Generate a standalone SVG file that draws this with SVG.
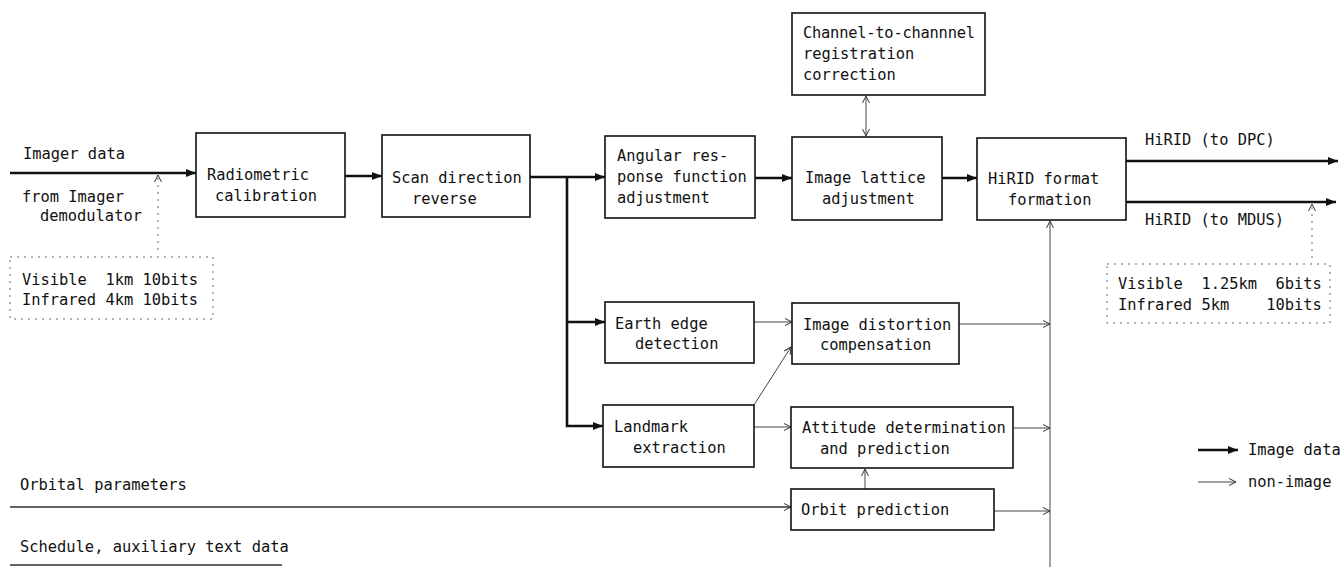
<svg xmlns="http://www.w3.org/2000/svg" width="1340" height="567" viewBox="0 0 1340 567">
<defs>
<style>
text{font-family:"DejaVu Sans Mono","Liberation Mono",monospace;font-size:15.4px;fill:#111}
.box{fill:#fff;stroke:#111;stroke-width:1.6}
.thick{stroke:#111;stroke-width:2.6;fill:none}
.thin{stroke:#444;stroke-width:1;fill:none}
.feed{stroke:#333;stroke-width:1.4;fill:none}
.dot{stroke:#666;stroke-width:1;fill:none;stroke-dasharray:2 5}
</style>
<marker id="ah" markerUnits="userSpaceOnUse" markerWidth="12" markerHeight="10" refX="10" refY="5" orient="auto">
<path d="M0,1 L10,5 L0,9 Z" fill="#111"/>
</marker>
<marker id="oh" markerUnits="userSpaceOnUse" markerWidth="10" markerHeight="10" refX="8" refY="5" orient="auto">
<path d="M1,1.5 L8,5 L1,8.5" fill="none" stroke="#333" stroke-width="1"/>
</marker>
<marker id="os" markerUnits="userSpaceOnUse" markerWidth="10" markerHeight="10" refX="2" refY="5" orient="auto">
<path d="M9,1.5 L2,5 L9,8.5" fill="none" stroke="#333" stroke-width="1"/>
</marker>
</defs>

<g id="connectors">
<line class="thick" x1="10" y1="173" x2="196" y2="173" marker-end="url(#ah)"/>
<line class="thick" x1="345" y1="176" x2="382" y2="176" marker-end="url(#ah)"/>
<line class="thick" x1="530" y1="177" x2="605" y2="177" marker-end="url(#ah)"/>
<polyline class="thick" points="567,177 567,426 603,426" marker-end="url(#ah)"/>
<line class="thick" x1="567" y1="322" x2="605" y2="322" marker-end="url(#ah)"/>
<line class="thick" x1="755" y1="178" x2="792" y2="178" marker-end="url(#ah)"/>
<line class="thick" x1="942" y1="178" x2="977" y2="178" marker-end="url(#ah)"/>
<line class="thick" x1="1126" y1="161" x2="1338" y2="161" marker-end="url(#ah)"/>
<line class="thick" x1="1126" y1="202" x2="1336" y2="202" marker-end="url(#ah)"/>
<line class="thin" x1="866" y1="96" x2="866" y2="136" marker-start="url(#os)" marker-end="url(#oh)"/>
<line class="thin" x1="754" y1="322" x2="792" y2="322" marker-end="url(#oh)"/>
<line class="thin" x1="754" y1="405" x2="791" y2="347" marker-end="url(#oh)"/>
<line class="thin" x1="754" y1="427" x2="791" y2="427" marker-end="url(#oh)"/>
<line class="thin" x1="865" y1="489" x2="865" y2="469" marker-end="url(#oh)"/>
<line class="feed" x1="10" y1="507" x2="791" y2="507" marker-end="url(#oh)"/>
<line class="feed" x1="10" y1="565" x2="282" y2="565"/>
<line class="thin" x1="959" y1="324" x2="1050" y2="324" marker-end="url(#oh)"/>
<line class="thin" x1="1013" y1="428" x2="1050" y2="428" marker-end="url(#oh)"/>
<line class="thin" x1="994" y1="511" x2="1050" y2="511" marker-end="url(#oh)"/>
<line class="thin" x1="1050" y1="567" x2="1050" y2="221" marker-end="url(#oh)"/>
<line class="dot" x1="158" y1="250" x2="158" y2="175" marker-end="url(#oh)"/>
<line class="dot" x1="1312" y1="258" x2="1312" y2="204" marker-end="url(#oh)"/>
<line class="thick" x1="1198" y1="450" x2="1238" y2="450" marker-end="url(#ah)"/>
<line class="thin" x1="1198" y1="482" x2="1236" y2="482" marker-end="url(#oh)"/>
</g>

<g id="labels">
<text x="23" y="159">Imager data</text>
<text x="22" y="202">from Imager</text>
<text x="40" y="221">demodulator</text>
<text x="20" y="490">Orbital parameters</text>
<text x="20" y="552">Schedule, auxiliary text data</text>
<text x="1145" y="145">HiRID (to DPC)</text>
<text x="1145" y="225">HiRID (to MDUS)</text>
<text x="1248" y="455">Image data</text>
<text x="1248" y="487">non-image</text>
</g>

<g id="input-spec">
<rect class="dot" x="10" y="257" width="203" height="62"/>
<text x="22" y="285" xml:space="preserve">Visible  1km 10bits</text>
<text x="22" y="305">Infrared 4km 10bits</text>
</g>

<g id="output-spec">
<rect class="dot" x="1107" y="264" width="223" height="59"/>
<text x="1118" y="289" xml:space="preserve">Visible  1.25km  6bits</text>
<text x="1118" y="310" xml:space="preserve">Infrared 5km    10bits</text>
</g>

<g id="radiometric">
<rect class="box" x="196" y="133" width="149" height="84"/>
<text x="207" y="180">Radiometric</text>
<text x="215" y="201">calibration</text>
</g>

<g id="scan">
<rect class="box" x="382" y="135" width="148" height="82"/>
<text x="392" y="183">Scan direction</text>
<text x="412" y="204">reverse</text>
</g>

<g id="angular">
<rect class="box" x="605" y="136" width="150" height="82"/>
<text x="617" y="161">Angular res-</text>
<text x="617" y="182">ponse function</text>
<text x="617" y="203">adjustment</text>
</g>

<g id="channel">
<rect class="box" x="792" y="13" width="193" height="82"/>
<text x="803" y="38" textLength="172">Channel-to-channnel</text>
<text x="803" y="59">registration</text>
<text x="803" y="80">correction</text>
</g>

<g id="lattice">
<rect class="box" x="792" y="137" width="150" height="83"/>
<text x="805" y="183">Image lattice</text>
<text x="822" y="204">adjustment</text>
</g>

<g id="hirid">
<rect class="box" x="977" y="138" width="149" height="82"/>
<text x="988" y="184">HiRID format</text>
<text x="1008" y="205">formation</text>
</g>

<g id="earth">
<rect class="box" x="605" y="302" width="149" height="61"/>
<text x="615" y="329">Earth edge</text>
<text x="635" y="349">detection</text>
</g>

<g id="distortion">
<rect class="box" x="792" y="303" width="167" height="61"/>
<text x="803" y="330">Image distortion</text>
<text x="820" y="350">compensation</text>
</g>

<g id="landmark">
<rect class="box" x="603" y="405" width="151" height="62"/>
<text x="614" y="432">Landmark</text>
<text x="633" y="453">extraction</text>
</g>

<g id="attitude">
<rect class="box" x="791" y="407" width="222" height="61"/>
<text x="802" y="433">Attitude determination</text>
<text x="820" y="454">and prediction</text>
</g>

<g id="orbit">
<rect class="box" x="791" y="489" width="203" height="41"/>
<text x="801" y="515">Orbit prediction</text>
</g>
</svg>
